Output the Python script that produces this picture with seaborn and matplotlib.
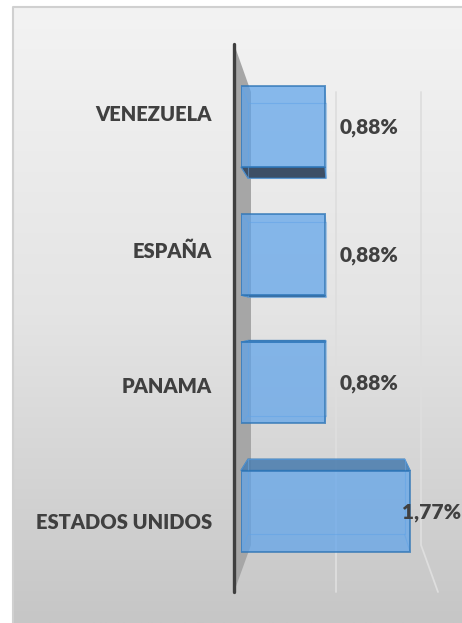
import numpy as np
import pandas as pd
import matplotlib
matplotlib.use("Agg")
import matplotlib.pyplot as plt
import seaborn as sns
from matplotlib.colors import LinearSegmentedColormap
from matplotlib.patches import Polygon

# datos
paises = ["VENEZUELA", "ESPAÑA", "PANAMA", "ESTADOS UNIDOS"]
porcentajes = [0.88, 0.88, 0.88, 1.77]
etiquetas = ["0,88%", "0,88%", "0,88%", "1,77%"]
ticks_grid = [0, 1, 2]

df = pd.DataFrame({"pais": paises, "pct": porcentajes})

W, H = 462, 623
sns.set_theme(style="white")
plt.rcParams["font.family"] = ["Lato", "DejaVu Sans"]
texto = "#404040"

fig = plt.figure(figsize=(W / 100, H / 100), dpi=100)
fig.patch.set_facecolor("white")

# capa de decoracion en pixeles (origen arriba a la izquierda)
deco = fig.add_axes([0, 0, 1, 1], zorder=0)
deco.set_xlim(0, W)
deco.set_ylim(H, 0)
deco.axis("off")

cmap = LinearSegmentedColormap.from_list("fondo", ["#f3f3f3", "#e4e4e4", "#c6c6c6"])
deco.imshow(np.linspace(0, 1, 256)[:, None], cmap=cmap, extent=(13, W, H, 7),
            aspect="auto", zorder=0)
deco.plot([13, 13, W], [H, 7, 7], color="#d0d0d0", lw=1.5, zorder=1)

# planos del "3D": pared trasera y borde delantero del suelo
y_top_eje, y_top_fondo, y_base_fondo, y_base_frente = 44, 92, 545, 592
def x_fondo(v):
    return 251 + 85 * v
def x_frente(v):
    return 234 + 102 * v

# pared lateral gris
deco.add_patch(Polygon([(x_frente(0), y_top_eje), (x_fondo(0), y_top_fondo),
                        (x_fondo(0), y_base_fondo), (x_frente(0), y_base_frente)],
                       closed=True, facecolor="#a6a6a6", edgecolor="none", zorder=2))
# lineas de cuadricula
for v in ticks_grid[1:]:
    deco.plot([x_fondo(v), x_fondo(v), x_frente(v)],
              [y_top_fondo, y_base_fondo, y_base_frente],
              color="#dedede", lw=1.3, zorder=2)
# eje vertical
deco.plot([x_frente(0), x_frente(0)], [y_top_eje, y_base_frente],
          color="#3f3f3f", lw=2.4, solid_capstyle="round", zorder=3)

# barras
ax = fig.add_axes([241 / W, 1 - 575.1 / H, 219.65 / W, (575.1 - 62.4) / H], zorder=1)
ax.patch.set_alpha(0)
sns.barplot(data=df, y="pais", x="pct", orient="h", width=0.632, color="#5ea3ea",
            saturation=1, alpha=0.72, edgecolor="#2e75b6", linewidth=1.4, ax=ax)
ax.set_xlim(0, 2.3)
ax.set_ylim(3.5, -0.5)
ax.axis("off")

def a_px(x, y):
    dx, dy = ax.transData.transform((x, y))
    return dx, H - dy

vp = (336, 318)
k = 1.08
def al_fondo(p):
    return (vp[0] + (p[0] - vp[0]) / k, vp[1] + (p[1] - vp[1]) / k)

renderer = fig.canvas.get_renderer()
for patch, pais, etq in zip(ax.patches, paises, etiquetas):
    x0, y0 = patch.get_x(), patch.get_y()
    w, h = patch.get_width(), patch.get_height()
    fl, ft = a_px(x0, y0)
    fr, fb = a_px(x0 + w, y0 + h)
    esq_f = [(fl, ft), (fr, ft), (fr, fb), (fl, fb)]
    esq_b = [al_fondo(p) for p in esq_f]
    # cara inferior o superior visible
    if esq_b[2][1] > fb:
        deco.add_patch(Polygon([esq_f[3], esq_f[2], esq_b[2], esq_b[3]], closed=True,
                               facecolor="#3d4f66", edgecolor="#2e75b6", lw=0.8, zorder=4))
    if esq_b[0][1] < ft:
        deco.add_patch(Polygon([esq_f[0], esq_f[1], esq_b[1], esq_b[0]], closed=True,
                               facecolor="#4f80b0", edgecolor="#2e75b6", lw=1.0,
                               alpha=0.9, zorder=4))
    # aristas traseras vistas a traves de la cara frontal
    bx = [p[0] for p in esq_b] + [esq_b[0][0]]
    by = [p[1] for p in esq_b] + [esq_b[0][1]]
    deco.plot(bx, by, color="#6aa6e2", lw=0.8, alpha=0.55, zorder=4)
    for pf, pb in zip(esq_f, esq_b):
        deco.plot([pf[0], pb[0]], [pf[1], pb[1]], color="#6aa6e2", lw=0.8,
                  alpha=0.55, zorder=4)

    cy = (ft + fb) / 2
    # etiqueta de valor (por encima de las barras)
    t = fig.text(fr + 15, cy + 1, etq, ha="left", va="center", fontsize=15,
                 fontweight="heavy", color=texto, transform=deco.transData, zorder=6)
    ext = t.get_window_extent(renderer)
    if ext.x1 > W - 2:
        t.set_x(W - 1)
        t.set_ha("right")
    # etiqueta de categoria
    deco.text(212, vp[1] + (cy - vp[1]) * 1.06, pais, ha="right", va="center",
              fontsize=14.5, fontweight="heavy", color=texto, zorder=6)

fig.savefig("out.png", dpi=100)
